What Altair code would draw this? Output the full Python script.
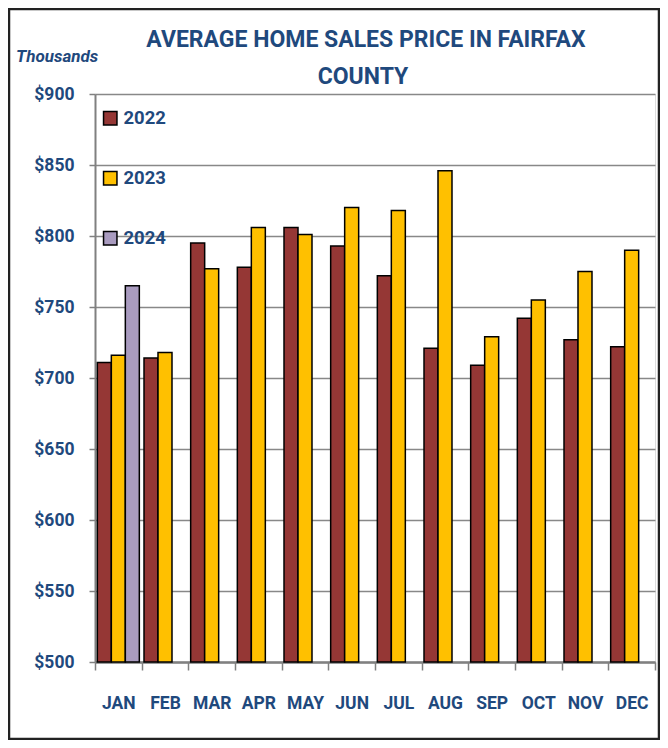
import altair as alt
import pandas as pd

months = ["JAN", "FEB", "MAR", "APR", "MAY", "JUN", "JUL", "AUG", "SEP", "OCT", "NOV", "DEC"]
price_2022 = [711, 714, 795, 778, 806, 793, 772, 721, 709, 742, 727, 722]
price_2023 = [716, 718, 777, 806, 801, 820, 818, 846, 729, 755, 775, 790]
price_2024 = [765]  # January only
years = ["2022", "2023", "2024"]
year_colors = ["#953735", "#FFC000", "#A99BBF"]
y_ticks = [500, 550, 600, 650, 700, 750, 800, 850, 900]
title_lines = ["AVERAGE  HOME SALES  PRICE IN FAIRFAX", "COUNTY"]

rows = []
for m, v in zip(months, price_2022):
    rows.append({"month": m, "year": "2022", "price": v})
for m, v in zip(months, price_2023):
    rows.append({"month": m, "year": "2023", "price": v})
for m, v in zip(months, price_2024):
    rows.append({"month": m, "year": "2024", "price": v})
df = pd.DataFrame(rows)

FONT = "Roboto, Noto Sans, sans-serif"
BLUE = "#1F497D"

bars = alt.Chart(df).mark_bar(stroke="black", strokeWidth=1.5).encode(
    x=alt.X("month:N", sort=months, title=None,
            scale=alt.Scale(paddingInner=0, paddingOuter=0),
            axis=alt.Axis(labelAngle=0, tickBand="extent", tickSize=8, labelPadding=24,
                          labelFont=FONT, labelFontSize=17.5, labelFontWeight="bold",
                          labelColor=BLUE, domainColor="#808080", domainWidth=2.5,
                          tickColor="#808080", tickWidth=1.5, grid=False)),
    xOffset=alt.XOffset("year:N", scale=alt.Scale(domain=years, paddingInner=0, paddingOuter=0.167)),
    y=alt.Y("price:Q", title=None,
            scale=alt.Scale(domain=[500, 900], zero=False, nice=False),
            axis=alt.Axis(values=y_ticks, labelExpr="'$' + datum.value", tickSize=6, labelPadding=15,
                          labelFont=FONT, labelFontSize=17.5, labelFontWeight="bold", labelColor=BLUE,
                          domainColor="#808080", domainWidth=2, tickColor="#808080", tickWidth=1.5,
                          grid=True, gridColor="#888888", gridWidth=1.5)),
    y2=alt.datum(500),
    color=alt.Color("year:N", scale=alt.Scale(domain=years, range=year_colors),
                    legend=alt.Legend(orient="none", legendX=6, legendY=15, title=None,
                                      symbolType="square", symbolSize=180, symbolStrokeColor="black",
                                      symbolStrokeWidth=1.5, symbolOpacity=1,
                                      labelFont=FONT, labelFontSize=18.5, labelFontWeight="bold",
                                      labelColor=BLUE, labelOffset=4, rowPadding=40, padding=0)),
)

one = pd.DataFrame({"k": [0]})
border = alt.Chart(one).mark_rect(fill=None, stroke="#222222", strokeWidth=2.5).encode(
    x=alt.value(-86), x2=alt.value(564), y=alt.value(-85), y2=alt.value(645)
)
thousands = alt.Chart(one).mark_text(
    text="Thousands", font=FONT, fontSize=17, fontStyle="italic", fontWeight="bold",
    color=BLUE, align="left", baseline="alphabetic"
).encode(x=alt.value(-79), y=alt.value(-32))
title1 = alt.Chart(one).mark_text(
    text=title_lines[0], font=FONT, fontSize=23, fontWeight="bold",
    color=BLUE, align="center", baseline="alphabetic"
).encode(x=alt.value(271), y=alt.value(-47))
title2 = alt.Chart(one).mark_text(
    text=title_lines[1], font=FONT, fontSize=23, fontWeight="bold",
    color=BLUE, align="center", baseline="alphabetic"
).encode(x=alt.value(268), y=alt.value(-10))

chart = alt.layer(border, thousands, title1, title2, bars).properties(
    width=560, height=568,
    autosize=alt.AutoSizeParams(type="none"),
    padding={"left": 87, "top": 86, "right": 5, "bottom": 78},
).configure_view(fill="#FAC090", stroke="black", strokeWidth=2).configure(background="white")

chart.save("out.html", embed_options={"renderer": "svg", "actions": False})
